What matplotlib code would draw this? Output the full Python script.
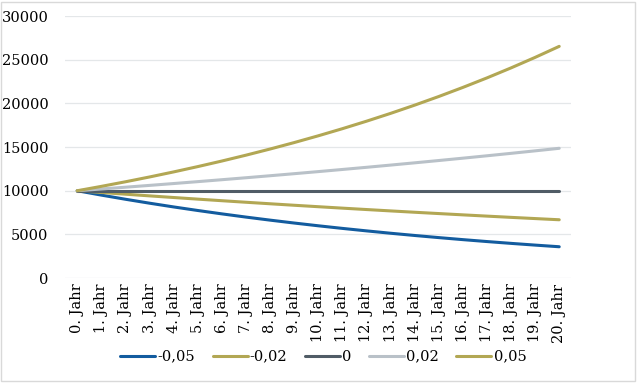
import matplotlib
matplotlib.use("Agg")
import matplotlib.pyplot as plt
from matplotlib.patches import Rectangle

plt.rcParams["font.family"] = ["DejaVu Serif"]

years = [f"{i}. Jahr" for i in range(21)]
rates = ["-0,05", "-0,02", "0", "0,02", "0,05"]
vals_m05 = [10000, 9500, 9025, 8574, 8145, 7738, 7351, 6983, 6634, 6302, 5987,
            5688, 5404, 5133, 4877, 4633, 4401, 4181, 3972, 3774, 3585]
vals_m02 = [10000, 9800, 9604, 9412, 9224, 9039, 8858, 8681, 8508, 8337, 8171,
            8007, 7847, 7690, 7536, 7386, 7238, 7093, 6951, 6812, 6676]
vals_0 = [10000] * 21
vals_p02 = [10000, 10200, 10404, 10612, 10824, 11041, 11262, 11487, 11717, 11951, 12190,
            12434, 12682, 12936, 13195, 13459, 13728, 14002, 14282, 14568, 14859]
vals_p05 = [10000, 10500, 11025, 11576, 12155, 12763, 13401, 14071, 14775, 15513, 16289,
            17103, 17959, 18856, 19799, 20789, 21829, 22920, 24066, 25270, 26533]
colors = ["#135C9F", "#B2A754", "#505C66", "#B9C1C8", "#B2A754"]

fig = plt.figure(figsize=(6.39, 3.83), dpi=100)
ax = fig.add_axes([0.102, 0.274, 0.792, 0.684])

x = list(range(len(years)))
for label, vals, c in zip(rates, [vals_m05, vals_m02, vals_0, vals_p02, vals_p05], colors):
    ax.plot(x, vals, color=c, lw=2.2, label=label, solid_capstyle="round")

ax.set_xlim(-0.5, 20.5)
ax.set_ylim(0, 30000)
ax.set_yticks(range(0, 30001, 5000))
ax.set_xticks(x)
ax.set_xticklabels(years, rotation=90, fontsize=10.5)
ax.tick_params(axis="y", labelsize=10.5, length=0, pad=12)
ax.tick_params(axis="x", length=0, pad=4)
ax.grid(axis="y", color="#E4E7E9", lw=0.9)
ax.set_axisbelow(True)
for s in ax.spines.values():
    s.set_visible(False)

ax.legend(loc="center", bbox_to_anchor=(0.51, -0.30), ncol=5, frameon=False,
          fontsize=10.5, handlelength=2.4, handletextpad=0.15, columnspacing=1.2)

fig.patches.append(Rectangle((0.002, 0.004), 0.992, 0.992, transform=fig.transFigure,
                             fill=False, edgecolor="#D9D9D9", lw=1))

fig.savefig("out.png", dpi=100)
